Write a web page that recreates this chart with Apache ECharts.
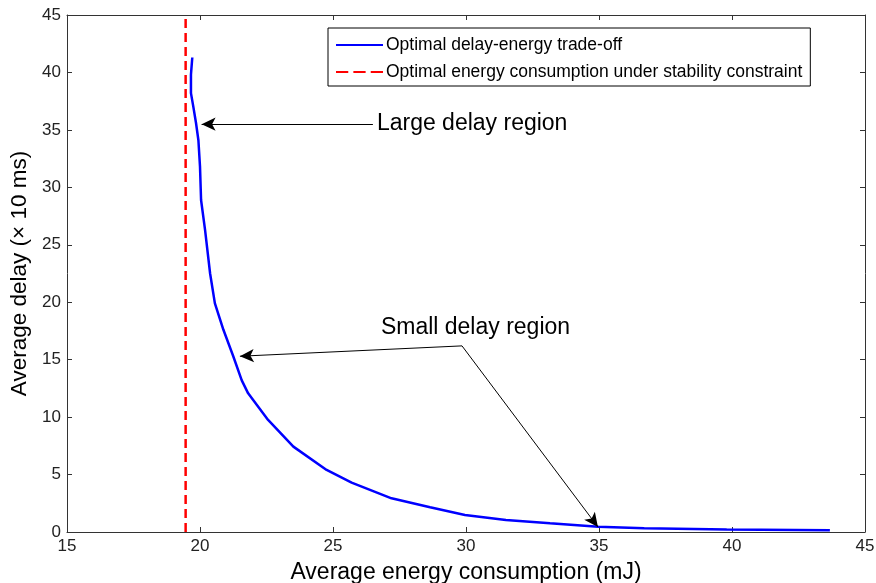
<!DOCTYPE html>
<html>
<head>
<meta charset="utf-8">
<script src="https://cdn.jsdelivr.net/npm/echarts@6/dist/echarts.min.js"></script>
<style>html,body{margin:0;padding:0;background:#fff;}#c{width:876px;height:583px;}</style>
</head>
<body>
<div id="c"></div>
<script>
const energy = [19.71, 19.66, 19.66, 19.75, 19.85, 19.94, 20.0, 20.04, 20.19, 20.38, 20.56, 20.88, 21.25, 21.57, 21.81, 22.56, 23.51, 24.76, 25.7, 27.2, 28.65, 29.96, 31.5, 33.16, 34.97, 36.7, 39.8, 43.68];
const delay  = [41.3, 39.8, 38.2, 37.0, 35.6, 34.1, 31.8, 28.9, 26.3, 22.5, 19.9, 17.6, 15.3, 13.2, 12.07, 9.75, 7.43, 5.4, 4.3, 2.93, 2.15, 1.48, 1.05, 0.76, 0.46, 0.32, 0.22, 0.15];
const stabilityEnergy = 19.46;
const xTicks = [15, 20, 25, 30, 35, 40, 45];
const yTicks = [0, 5, 10, 15, 20, 25, 30, 35, 40, 45];
const seriesNames = ['Optimal delay-energy trade-off', 'Optimal energy consumption under stability constraint'];
const annotations = [
  {text: 'Large delay region', at: [26.65, 35.5], arrows: [[[26.5, 35.5], [20.06, 35.5]]]},
  {text: 'Small delay region', at: [26.8, 17.8], arrows: [[[29.85, 16.2], [21.5, 15.3]], [[29.85, 16.2], [34.96, 0.44]]]}
];

const FONT = '"Liberation Sans", Arial, sans-serif';
const chart = echarts.init(document.getElementById('c'), null, {renderer: 'canvas'});

const curve = energy.map((e, i) => [e, delay[i]]);
const vline = [[stabilityEnergy, yTicks[0]], [stabilityEnergy, yTicks[yTicks.length - 1]]];

const arrowLines = [];
annotations.forEach(a => a.arrows.forEach(ar => arrowLines.push([
  {coord: ar[0], symbol: 'none', symbolSize: 0},
  {coord: ar[1], symbol: 'arrow', symbolSize: [10, 14]}
])));
const textPoints = annotations.map(a => ({coord: a.at, value: a.text}));

const axisCommon = {
  type: 'value',
  splitLine: {show: false},
  axisLine: {show: true, onZero: false, lineStyle: {color: '#333', width: 1}},
  axisTick: {show: true, inside: true, length: 5, lineStyle: {color: '#333'}},
};

chart.setOption({
  animation: false,
  backgroundColor: '#fff',
  grid: {left: 67, right: 11, top: 15, bottom: 51, containLabel: false, outerBoundsMode: 'none'},
  legend: {
    orient: 'vertical', left: 328, top: 28,
    backgroundColor: '#fff', borderColor: '#000', borderWidth: 1,
    padding: [8, 8, 5, 8], itemGap: 9, itemWidth: 47, itemHeight: 14,
    textStyle: {fontFamily: FONT, fontSize: 17.5, color: '#000', padding: [0, 0, 0, -2]},
    data: [
      {name: seriesNames[0], icon: 'path://M0,6 L47,6 L47,8.2 L0,8.2 Z'},
      {name: seriesNames[1], icon: 'path://M0,6 L12,6 L12,8.2 L0,8.2 Z M17,6 L29,6 L29,8.2 L17,8.2 Z M34,6 L46,6 L46,8.2 L34,8.2 Z'}
    ]
  },
  xAxis: [
    Object.assign({}, axisCommon, {
      min: xTicks[0], max: xTicks[xTicks.length - 1], interval: 5,
      axisLabel: {fontFamily: FONT, fontSize: 17, color: '#222', margin: 6},
      name: 'Average energy consumption (mJ)', nameLocation: 'middle', nameGap: 29,
      nameTextStyle: {fontFamily: FONT, fontSize: 23, color: '#000'}
    }),
    Object.assign({}, axisCommon, {
      position: 'top', min: xTicks[0], max: xTicks[xTicks.length - 1], interval: 5,
      axisLabel: {show: false}
    })
  ],
  yAxis: [
    Object.assign({}, axisCommon, {
      min: yTicks[0], max: yTicks[yTicks.length - 1], interval: 5,
      axisLabel: {fontFamily: FONT, fontSize: 17, color: '#222', margin: 6},
      name: 'Average delay (\u00d7 10 ms)', nameLocation: 'middle', nameGap: 34,
      nameTextStyle: {fontFamily: FONT, fontSize: 22.5, color: '#000'}
    }),
    Object.assign({}, axisCommon, {
      position: 'right', min: yTicks[0], max: yTicks[yTicks.length - 1], interval: 5,
      axisLabel: {show: false}
    })
  ],
  series: [
    {
      name: seriesNames[0], type: 'line', data: curve, showSymbol: false, symbol: 'none',
      lineStyle: {color: '#0000ff', width: 2.5}, itemStyle: {color: '#0000ff'},
      markLine: {
        silent: true,
        lineStyle: {color: '#000', width: 1, type: 'solid'},
        itemStyle: {color: '#000'},
        label: {show: false},
        data: arrowLines
      },
      markPoint: {
        silent: true, symbol: 'circle', symbolSize: 0,
        label: {show: true, position: 'right', distance: 0, formatter: p => p.value,
          fontFamily: FONT, fontSize: 23, color: '#000'},
        data: textPoints
      }
    },
    {
      name: seriesNames[1], type: 'line', data: vline, showSymbol: false, symbol: 'none',
      lineStyle: {color: '#ff0000', width: 2.5, type: [9, 5]}, itemStyle: {color: '#ff0000'}
    }
  ]
});
</script>
</body>
</html>
